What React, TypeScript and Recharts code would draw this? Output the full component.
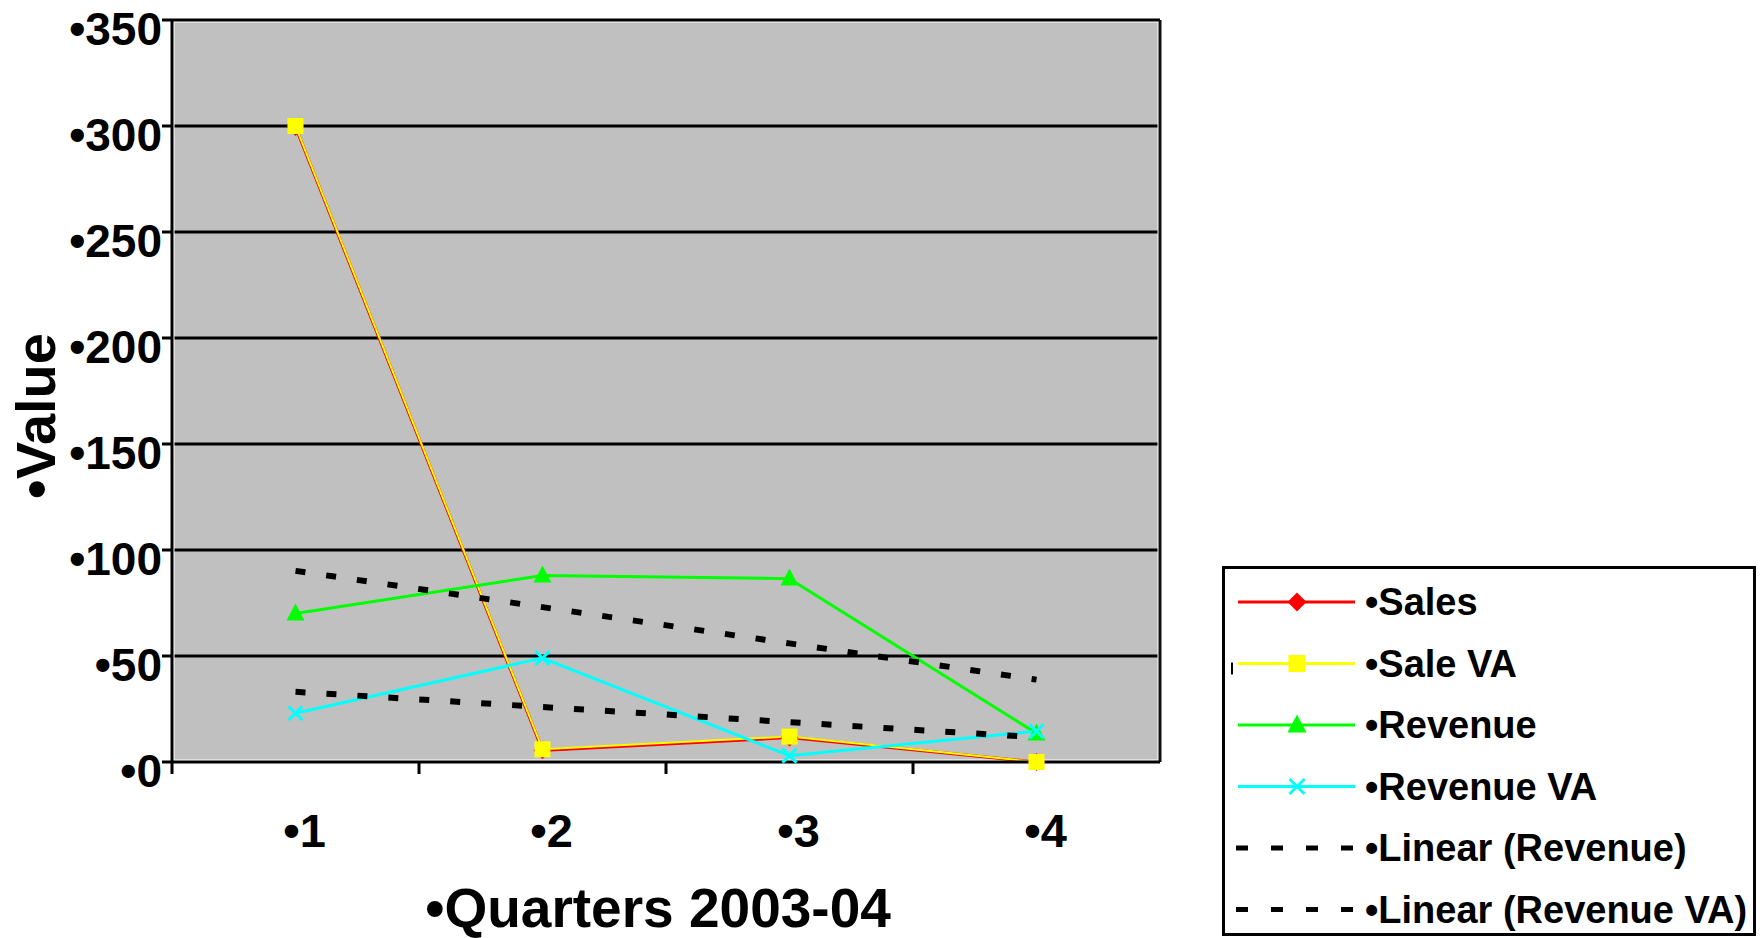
import React from 'react';
import {
  LineChart,
  Line,
  XAxis,
  YAxis,
  CartesianGrid,
  ReferenceArea,
  ReferenceLine,
  Label,
} from 'recharts';

// Quarterly figures, 2003-04
const quarters = [1, 2, 3, 4];
const sales = [299.5, 5.5, 11.5, 0];
const saleVA = [300, 6, 12, 0];
const revenue = [70, 88, 86.5, 13.5];
const revenueVA = [23, 49, 3, 14.5];

const yTicks = [0, 50, 100, 150, 200, 250, 300, 350];
const xTickLabels = ['•1', '•2', '•3', '•4'];
const bandEdges = [0.5, 1.5, 2.5, 3.5];

const FONT = '"Liberation Sans", Arial, Helvetica, sans-serif';

// Least-squares straight line through a series (Excel-style "Linear" trendline)
function linearTrend(xs: number[], ys: number[]): number[] {
  const n = xs.length;
  const mx = xs.reduce((a, b) => a + b, 0) / n;
  const my = ys.reduce((a, b) => a + b, 0) / n;
  let num = 0;
  let den = 0;
  xs.forEach((x, i) => {
    num += (x - mx) * (ys[i] - my);
    den += (x - mx) * (x - mx);
  });
  const slope = num / den;
  return xs.map((x) => my + slope * (x - mx));
}

const trendRevenue = linearTrend(quarters, revenue);
const trendRevenueVA = linearTrend(quarters, revenueVA);

const data = quarters.map((q, i) => ({
  q,
  sales: sales[i],
  saleVA: saleVA[i],
  revenue: revenue[i],
  revenueVA: revenueVA[i],
  trendRevenue: trendRevenue[i],
  trendRevenueVA: trendRevenueVA[i],
}));

const RED = '#FF0000';
const YELLOW = '#FFFF00';
const GREEN = '#00FF00';
const CYAN = '#00FFFF';

type MarkerKind = 'diamond' | 'square' | 'triangle' | 'cross';

function Marker({ kind, cx, cy, size = 16 }: { kind: MarkerKind; cx: number; cy: number; size?: number }) {
  const h = size / 2;
  if (kind === 'diamond') {
    return <polygon points={`${cx},${cy - h - 1} ${cx + h + 1},${cy} ${cx},${cy + h + 1} ${cx - h - 1},${cy}`} fill={RED} />;
  }
  if (kind === 'square') {
    return <rect x={cx - h} y={cy - h} width={size} height={size} fill={YELLOW} />;
  }
  if (kind === 'triangle') {
    return <polygon points={`${cx},${cy - h - 2} ${cx + h + 1},${cy + h - 1} ${cx - h - 1},${cy + h - 1}`} fill={GREEN} />;
  }
  const r = h - 1;
  return (
    <g stroke={CYAN} strokeWidth={3}>
      <line x1={cx - r} y1={cy - r} x2={cx + r} y2={cy + r} />
      <line x1={cx - r} y1={cy + r} x2={cx + r} y2={cy - r} />
    </g>
  );
}

const dotRenderer = (kind: MarkerKind) => (props: any) => {
  const { cx, cy, index } = props;
  if (cx == null || cy == null) return <g key={`${kind}-${index}`} />;
  return (
    <g key={`${kind}-${index}`}>
      <Marker kind={kind} cx={cx} cy={cy} />
    </g>
  );
};

const YTick = (props: any) => {
  const { x, y, payload } = props;
  return (
    <text
      x={x}
      y={y + 25}
      textAnchor="end"
      fontFamily={FONT}
      fontWeight="bold"
      fontSize={46}
      fill="#000"
    >
      {`•${payload.value}`}
    </text>
  );
};

const XTick = (props: any) => {
  const { x, y, payload } = props;
  const idx = quarters.indexOf(payload.value);
  if (idx >= 0) {
    return (
      <text
        x={x + 9}
        y={y + 85}
        textAnchor="middle"
        fontFamily={FONT}
        fontWeight="bold"
        fontSize={47}
        fill="#000"
      >
        {xTickLabels[idx]}
      </text>
    );
  }
  return <line x1={x} y1={y} x2={x} y2={y + 12} stroke="#000" strokeWidth={3} />;
};

const XTitle = (props: any) => {
  const vb = props.viewBox || {};
  return (
    <text
      x={vb.x + vb.width / 2 - 8}
      y={vb.y + vb.height - 11}
      textAnchor="middle"
      fontFamily={FONT}
      fontWeight="bold"
      fontSize={55}
      fill="#000"
    >
      •Quarters 2003-04
    </text>
  );
};

const YTitle = (props: any) => {
  const vb = props.viewBox || {};
  const cx = vb.x + 55;
  const cy = vb.y + vb.height / 2 + 25;
  return (
    <text
      x={cx}
      y={cy}
      transform={`rotate(-90, ${cx}, ${cy})`}
      textAnchor="middle"
      fontFamily={FONT}
      fontWeight="bold"
      fontSize={56}
      fill="#000"
    >
      •Value
    </text>
  );
};

const legendItems: { name: string; color: string; marker?: MarkerKind; dashed?: boolean }[] = [
  { name: '•Sales', color: RED, marker: 'diamond' },
  { name: '•Sale VA', color: YELLOW, marker: 'square' },
  { name: '•Revenue', color: GREEN, marker: 'triangle' },
  { name: '•Revenue VA', color: CYAN, marker: 'cross' },
  { name: '•Linear (Revenue)', color: '#000', dashed: true },
  { name: '•Linear (Revenue VA)', color: '#000', dashed: true },
];

function ChartLegend() {
  const w = 534;
  const h = 370;
  const rowTop = 36;
  const rowGap = 61.5;
  return (
    <svg
      width={w}
      height={h}
      style={{ position: 'absolute', left: 1222, top: 566 }}
    >
      <rect x={1.5} y={1.5} width={w - 3} height={h - 3} fill="#fff" stroke="#000" strokeWidth={3} />
      {/* stray mark left of the second sample line */}
      <line x1={10} y1={rowTop + rowGap - 1} x2={10} y2={rowTop + rowGap + 11} stroke="#000" strokeWidth={2} />
      {legendItems.map((it, i) => {
        const cy = rowTop + i * rowGap;
        return (
          <g key={it.name}>
            {it.dashed ? (
              <line x1={14} y1={cy} x2={131} y2={cy} stroke="#000" strokeWidth={5} strokeDasharray="12 23" />
            ) : (
              <line x1={16} y1={cy} x2={133} y2={cy} stroke={it.color} strokeWidth={3} />
            )}
            {it.marker && <Marker kind={it.marker} cx={75} cy={cy} size={17} />}
            <text
              x={143}
              y={cy + 13}
              fontFamily={FONT}
              fontWeight="bold"
              fontSize={38}
              fill="#000"
            >
              {it.name}
            </text>
          </g>
        );
      })}
    </svg>
  );
}

export default function App() {
  return (
    <div
      style={{
        position: 'absolute',
        left: 0,
        top: 0,
        width: 1762,
        height: 938,
        background: '#fff',
        overflow: 'hidden',
      }}
    >
      <LineChart
        width={1762}
        height={938}
        data={data}
        margin={{ top: 20, right: 602, bottom: 0, left: 0 }}
      >
        <CartesianGrid
          vertical={false}
          horizontal={true}
          fill="#C0C0C0"
          fillOpacity={1}
          stroke="#000"
          strokeWidth={3}
        />
        <ReferenceArea
          x1={0.5}
          x2={4.5}
          y1={0}
          y2={350}
          fill="none"
          fillOpacity={0}
          stroke="#FFFFFF"
          strokeWidth={5}
        />
        <ReferenceLine y={350} stroke="#000" strokeWidth={3} />
        <ReferenceLine x={4.5} stroke="#111" strokeWidth={3} />
        <XAxis
          dataKey="q"
          type="number"
          domain={[0.5, 4.5]}
          ticks={[...bandEdges, ...quarters].sort((a, b) => a - b)}
          interval={0}
          allowDecimals
          tickLine={false}
          tickSize={0}
          tickMargin={0}
          axisLine={{ stroke: '#000', strokeWidth: 3 }}
          height={176}
          tick={<XTick />}
        >
          <Label content={<XTitle />} />
        </XAxis>
        <YAxis
          type="number"
          domain={[0, 350]}
          ticks={yTicks}
          interval={0}
          width={172}
          tickSize={10}
          tickMargin={0}
          tickLine={{ stroke: '#000', strokeWidth: 3 }}
          axisLine={{ stroke: '#000', strokeWidth: 3 }}
          tick={<YTick />}
        >
          <Label content={<YTitle />} />
        </YAxis>
        <Line
          dataKey="sales"
          stroke={RED}
          strokeWidth={3}
          dot={dotRenderer('diamond')}
          activeDot={false}
          isAnimationActive={false}
        />
        <Line
          dataKey="saleVA"
          stroke={YELLOW}
          strokeWidth={2}
          dot={dotRenderer('square')}
          activeDot={false}
          isAnimationActive={false}
        />
        <Line
          dataKey="revenue"
          stroke={GREEN}
          strokeWidth={3}
          dot={dotRenderer('triangle')}
          activeDot={false}
          isAnimationActive={false}
        />
        <Line
          dataKey="revenueVA"
          stroke={CYAN}
          strokeWidth={3}
          dot={dotRenderer('cross')}
          activeDot={false}
          isAnimationActive={false}
        />
        <Line
          dataKey="trendRevenue"
          stroke="#000"
          strokeWidth={6}
          strokeDasharray="10 21"
          dot={false}
          activeDot={false}
          isAnimationActive={false}
        />
        <Line
          dataKey="trendRevenueVA"
          stroke="#000"
          strokeWidth={6}
          strokeDasharray="10 21"
          dot={false}
          activeDot={false}
          isAnimationActive={false}
        />
      </LineChart>
      <ChartLegend />
    </div>
  );
}
